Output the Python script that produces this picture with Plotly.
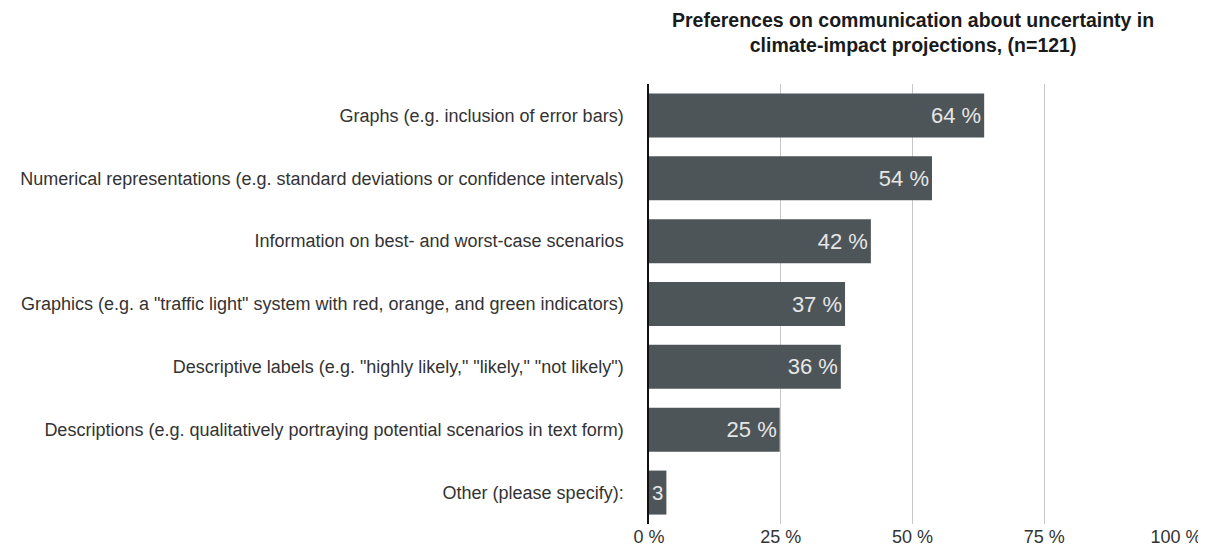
import plotly.graph_objects as go

categories = [
    "Graphs (e.g. inclusion of error bars)",
    "Numerical representations (e.g. standard deviations or confidence intervals)",
    "Information on best- and worst-case scenarios",
    "Graphics (e.g. a \"traffic light\" system with red, orange, and green indicators)",
    "Descriptive labels (e.g. \"highly likely,\" \"likely,\" \"not likely\")",
    "Descriptions (e.g. qualitatively portraying potential scenarios in text form)",
    "Other (please specify):",
]
values = [63.6, 53.7, 42.1, 37.2, 36.4, 24.8, 3.3]
bar_labels = ["64 %", "54 %", "42 %", "37 %", "36 %", "25 %", "3"]
tick_vals = [0, 25, 50, 75, 100]
tick_text = ["0 %", "25 %", "50 %", "75 %", "100 %"]
title_text = "Preferences on communication about uncertainty in<br>climate-impact projections, (n=121)"

FONT = "Liberation Sans, Arial, Helvetica, sans-serif"

fig = go.Figure(go.Bar(
    x=values,
    y=categories,
    orientation="h",
    marker=dict(color="#4d5559", line=dict(width=0)),
    text=bar_labels,
    textposition="inside",
    insidetextanchor="end",
    textfont=dict(family=FONT, size=22, color="#e6e6e6"),
    hoverinfo="x+y",
))

fig.add_annotation(
    text=title_text,
    xref="paper", yref="paper",
    x=0.5, y=1,
    xanchor="center", yanchor="bottom",
    yshift=26,
    showarrow=False,
    align="center",
    font=dict(family=FONT, size=19.5, color="#1a1a1a", weight="bold"),
)

fig.update_layout(
    width=1206,
    height=551,
    paper_bgcolor="white",
    plot_bgcolor="white",
    margin=dict(l=632, r=32, t=76, b=27),
    bargap=0.3,
    showlegend=False,
    font=dict(family=FONT, size=18, color="#333333"),
    xaxis=dict(
        range=[0, 100],
        tickvals=tick_vals,
        ticktext=tick_text,
        showgrid=True,
        gridcolor="#c8c8c8",
        gridwidth=1,
        zeroline=False,
        showline=False,
        ticks="",
        tickfont=dict(family=FONT, size=18, color="#333333"),
        fixedrange=True,
    ),
    yaxis=dict(
        autorange="reversed",
        showline=True,
        linecolor="#111111",
        linewidth=1.5,
        showgrid=False,
        ticks="",
        ticklabelstandoff=20,
        tickfont=dict(family=FONT, size=18, color="#333333"),
        fixedrange=True,
    ),
)

fig.write_html("out.html")
